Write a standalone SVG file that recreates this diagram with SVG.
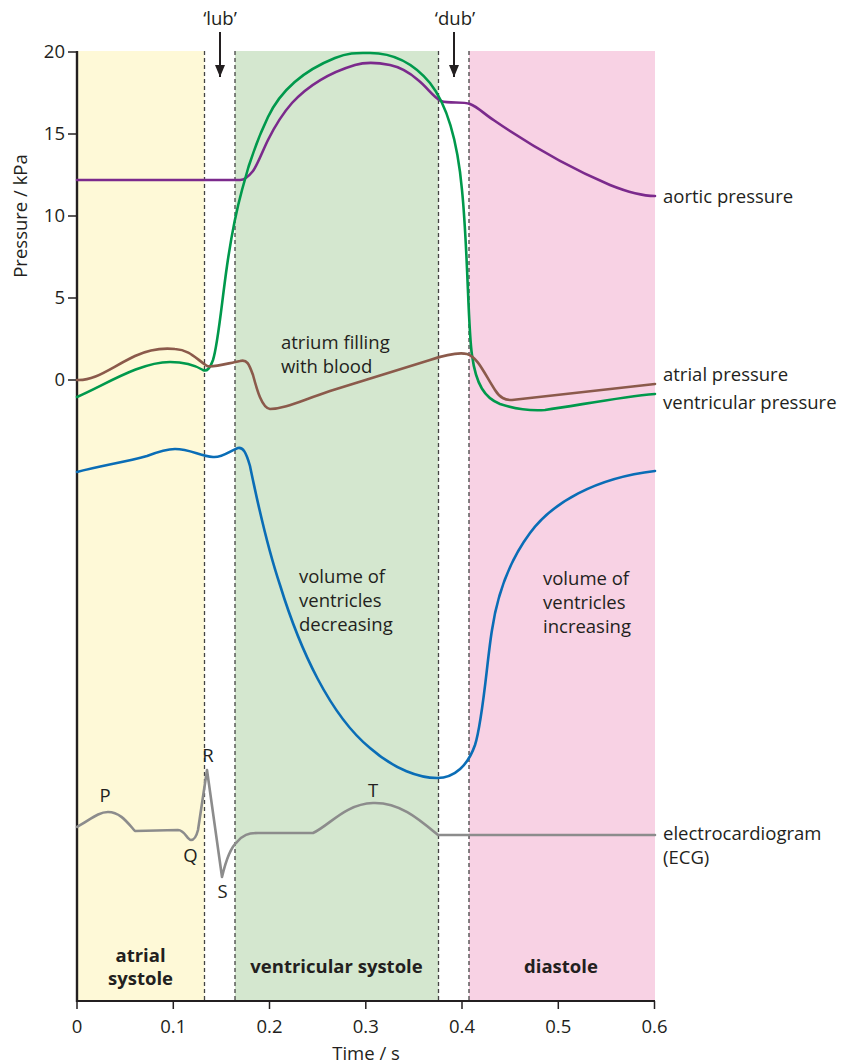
<svg xmlns="http://www.w3.org/2000/svg" width="851" height="1063" viewBox="0 0 851 1063">
<defs>
<style>
text{font-family:"Open Sans","Liberation Sans",sans-serif;font-size:18.5px;fill:#231f20}
.b{font-weight:bold}
.m{text-anchor:middle}
.e{text-anchor:end}
.dash{stroke:#444;stroke-width:1.3;stroke-dasharray:4 3;fill:none}
.curve{fill:none;stroke-width:2.6;stroke-linejoin:round;stroke-linecap:round}
.tick{stroke:#231f20;stroke-width:1.5}
</style>
<marker id="ah" viewBox="0 0 12 10" refX="12" refY="5" markerWidth="12" markerHeight="10" markerUnits="userSpaceOnUse" orient="auto">
<path d="M0,0 L12,5 L0,10 Z" fill="#231f20"/>
</marker>
</defs>
<rect width="851" height="1063" fill="#fff"/>
<g id="bands">
<rect x="77" y="51" width="127.5" height="950" fill="#FEF9D7"/>
<rect x="235" y="51" width="203.5" height="950" fill="#D4E7CF"/>
<rect x="469" y="51" width="186" height="950" fill="#F8D2E4"/>
<line class="dash" x1="204.5" y1="51" x2="204.5" y2="1001"/>
<line class="dash" x1="235" y1="51" x2="235" y2="1001"/>
<line class="dash" x1="438.5" y1="51" x2="438.5" y2="1001"/>
<line class="dash" x1="469" y1="51" x2="469" y2="1001"/>
</g>
<g id="axes">
<line x1="77" y1="51" x2="77" y2="1002" stroke="#231f20" stroke-width="2.4"/>
<line x1="76" y1="1001" x2="655" y2="1001" stroke="#231f20" stroke-width="2"/>
<line class="tick" x1="68" y1="52" x2="77" y2="52"/>
<line class="tick" x1="68" y1="134" x2="77" y2="134"/>
<line class="tick" x1="68" y1="216" x2="77" y2="216"/>
<line class="tick" x1="68" y1="298" x2="77" y2="298"/>
<line class="tick" x1="68" y1="380" x2="77" y2="380"/>
<text class="e" x="65" y="58">20</text>
<text class="e" x="65" y="140">15</text>
<text class="e" x="65" y="222">10</text>
<text class="e" x="65" y="304">5</text>
<text class="e" x="65" y="386">0</text>
<text class="m" transform="translate(27,216) rotate(-90)">Pressure / kPa</text>
<line class="tick" x1="77" y1="1001" x2="77" y2="1009"/>
<line class="tick" x1="173.3" y1="1001" x2="173.3" y2="1009"/>
<line class="tick" x1="269.5" y1="1001" x2="269.5" y2="1009"/>
<line class="tick" x1="365.8" y1="1001" x2="365.8" y2="1009"/>
<line class="tick" x1="462" y1="1001" x2="462" y2="1009"/>
<line class="tick" x1="558.3" y1="1001" x2="558.3" y2="1009"/>
<line class="tick" x1="654.5" y1="1001" x2="654.5" y2="1009"/>
<text class="m" x="77" y="1033">0</text>
<text class="m" x="173.3" y="1033">0.1</text>
<text class="m" x="269.5" y="1033">0.2</text>
<text class="m" x="365.8" y="1033">0.3</text>
<text class="m" x="462" y="1033">0.4</text>
<text class="m" x="558.3" y="1033">0.5</text>
<text class="m" x="654.5" y="1033">0.6</text>
<text class="m" x="366" y="1060">Time / s</text>
</g>
<g id="phase-labels">
<text class="b m" x="140.5" y="962">atrial</text>
<text class="b m" x="140.5" y="985">systole</text>
<text class="b m" x="336.5" y="973">ventricular systole</text>
<text class="b m" x="561" y="973">diastole</text>
</g>
<g id="sounds">
<text class="m" x="220" y="25">‘lub’</text>
<text class="m" x="455" y="25">‘dub’</text>
</g>
<g id="connectors">
<line x1="220" y1="32" x2="220" y2="77" stroke="#231f20" stroke-width="2" marker-end="url(#ah)"/>
<line x1="454" y1="32" x2="454" y2="77" stroke="#231f20" stroke-width="2" marker-end="url(#ah)"/>
</g>
<g id="aortic-pressure">
<path class="curve" stroke="#7B2A8C" d="M77,180 H240 C245,180 249,176 253,171 C257,166 263,150 268,140 C276,124 284,112 292,103 C305,89 325,74 355,65 C365,62 380,63 390,65 C400,67 410,73 418,80 C428,88 433,97 441,101 C450,104 462,101 470,104 C478,107 484,114 495,121 C530,145 570,168 610,185 C630,193 645,196 655,196"/>
<text x="663" y="203">aortic pressure</text>
</g>
<g id="ventricular-pressure">
<path class="curve" stroke="#00994C" d="M77,397 C105,385 140,362 170,362 C188,362 198,367 203,370 C207,372 210,368 213,360 C218,345 222,300 227,266 C231,238 236,212 242,190 C248,166 257,140 268,117 C279,94 300,72 335,58 C350,52 358,53 370,53 C395,53 415,65 430,83 C445,102 457,135 462,190 C468,250 468,330 472,355 C476,385 485,398 500,404 C515,409 530,411 545,410 C580,405 620,397 655,394"/>
<text x="663" y="409">ventricular pressure</text>
</g>
<g id="atrial-pressure">
<path class="curve" stroke="#8B5A4B" d="M77,380 C95,381 110,368 135,356 C150,349 165,348 175,349 C190,350 195,358 207,366 C212,368 225,364 240,361 C247,359 249,364 253,375 C257,390 262,408 270,409 C285,409 300,401 330,391 L430,360 C445,355 458,352 467,354 C478,357 485,375 495,390 C500,398 505,400 512,400 L655,384"/>
<text x="663" y="381">atrial pressure</text>
<text x="281" y="349">atrium filling</text>
<text x="281" y="373">with blood</text>
</g>
<g id="ventricle-volume">
<path class="curve" stroke="#0A6DB6" d="M77,472 C100,466 125,462 147,456 C160,451 168,449 175,449 C190,449 200,456 213,457 C222,458 230,451 238,448 C243,447 246,452 250,466 C255,490 265,540 280,585 C300,650 330,715 370,748 C395,770 420,778 437,778 C455,778 468,765 475,745 C483,720 487,660 492,630 C498,590 510,560 530,533 C552,503 595,478 655,471"/>
<text x="299" y="583">volume of</text>
<text x="299" y="607">ventricles</text>
<text x="299" y="631">decreasing</text>
<text x="543" y="585">volume of</text>
<text x="543" y="609">ventricles</text>
<text x="543" y="633">increasing</text>
</g>
<g id="ecg">
<path class="curve" stroke="#8C8C8C" d="M77,827 C90,820 98,812 108,812 C120,812 127,822 135,831 L178,830 C185,830 187,840 191,840 C194,840 196,838 198,830 L207,770 L222,877 C226,860 230,848 237,842 C243,835 248,833 258,833 L313,833 C330,825 345,804 373,803 C400,802 420,820 438,835 L655,835"/>
<text x="663" y="840">electrocardiogram</text>
<text x="663" y="864">(ECG)</text>
<text class="m" x="105" y="802">P</text>
<text class="m" x="190.5" y="862">Q</text>
<text class="m" x="208" y="762">R</text>
<text class="m" x="222.5" y="898">S</text>
<text class="m" x="373" y="797">T</text>
</g>
</svg>
